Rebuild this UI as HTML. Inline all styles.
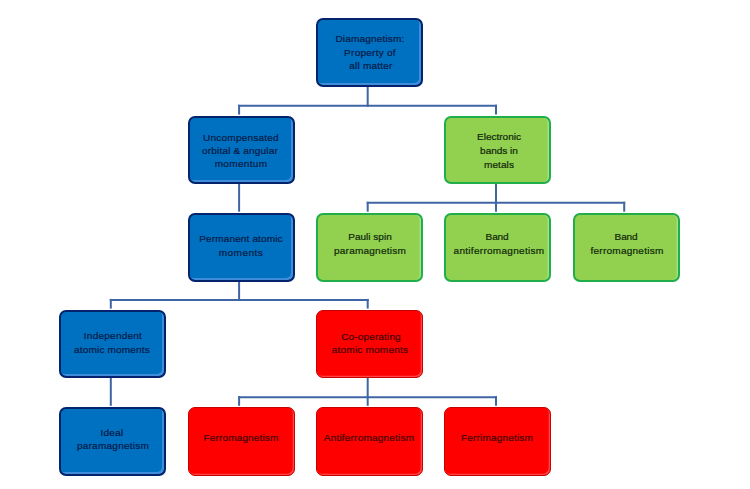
<!DOCTYPE html>
<html><head><meta charset="utf-8"><style>
html,body{margin:0;padding:0;background:#fff;width:750px;height:489px;overflow:hidden;position:relative}
body{font-family:"Liberation Sans",sans-serif}
svg{position:absolute;left:0;top:0}
svg line{stroke:#3f66a4;stroke-width:2;stroke-linecap:square}
.box{position:absolute;width:107.1px;height:68.7px;box-sizing:border-box;border-radius:7px}
.b{background:#0070c0;border:2px solid #03246a;box-shadow:inset -2px -2px 0 #3f8dda}
.g{background:#92d050;border:2px solid #20ad4a;box-shadow:inset -1.4px 0 0 #9fe388}
.r{background:#ff0000;border:1.5px solid #c80000;box-shadow:inset -1.3px -1.3px 0 #ff4444}
.t{position:absolute;width:160px;text-align:center;white-space:nowrap;font-size:9.4px;line-height:12px;-webkit-text-stroke:0.2px currentColor;transform:scaleX(1.07);transform-origin:50% 50%}
.bt{color:#081b46}
.gt{color:#10290b}
.rt{color:#420303}
</style></head><body>
<svg width="750" height="489" viewBox="0 0 750 489"><line x1="367.7" y1="84.7" x2="367.7" y2="105.8"/><line x1="239.1" y1="105.8" x2="496" y2="105.8"/><line x1="239.1" y1="105.8" x2="239.1" y2="113.6"/><line x1="496" y1="105.8" x2="496" y2="113.6"/><line x1="239.1" y1="182.5" x2="239.1" y2="210.70000000000002"/><line x1="496" y1="182.5" x2="496" y2="202.8"/><line x1="367.7" y1="202.8" x2="624.2" y2="202.8"/><line x1="367.7" y1="202.8" x2="367.7" y2="210.70000000000002"/><line x1="496" y1="202.8" x2="496" y2="210.70000000000002"/><line x1="624.2" y1="202.8" x2="624.2" y2="210.70000000000002"/><line x1="239.1" y1="279.6" x2="239.1" y2="299.9"/><line x1="110.8" y1="299.9" x2="367.7" y2="299.9"/><line x1="110.8" y1="299.9" x2="110.8" y2="307.6"/><line x1="367.7" y1="299.9" x2="367.7" y2="307.6"/><line x1="110.8" y1="376.5" x2="110.8" y2="404.8"/><line x1="367.7" y1="376.5" x2="367.7" y2="397.2"/><line x1="239.1" y1="397.2" x2="496" y2="397.2"/><line x1="239.1" y1="397.2" x2="239.1" y2="404.8"/><line x1="367.7" y1="397.2" x2="367.7" y2="404.8"/><line x1="496" y1="397.2" x2="496" y2="404.8"/></svg>
<div class="box b" style="left:316px;top:18.0px"></div><div class="box b" style="left:187.9px;top:115.8px"></div><div class="box g" style="left:444.3px;top:115.8px"></div><div class="box b" style="left:187.9px;top:212.9px"></div><div class="box g" style="left:316px;top:212.9px"></div><div class="box g" style="left:444.3px;top:212.9px"></div><div class="box g" style="left:573px;top:212.9px"></div><div class="box b" style="left:59.2px;top:309.8px"></div><div class="box r" style="left:316px;top:309.8px"></div><div class="box b" style="left:59.2px;top:407.0px"></div><div class="box r" style="left:187.9px;top:407.0px"></div><div class="box r" style="left:316px;top:407.0px"></div><div class="box r" style="left:444.3px;top:407.0px"></div>
<div class="t bt" style="left:290.00px;top:32.64px;letter-spacing:0.158px">Diamagnetism:</div><div class="t bt" style="left:290.40px;top:46.54px;letter-spacing:0.230px">Property of</div><div class="t bt" style="left:290.70px;top:60.44px;letter-spacing:0.194px">all matter</div><div class="t bt" style="left:161.10px;top:132.04px;letter-spacing:0.200px">Uncompensated</div><div class="t bt" style="left:160.20px;top:145.24px;letter-spacing:0.162px">orbital &amp; angular</div><div class="t bt" style="left:160.80px;top:158.44px;letter-spacing:0.293px">momentum</div><div class="t gt" style="left:419.10px;top:130.74px;letter-spacing:-0.017px">Electronic</div><div class="t gt" style="left:418.90px;top:145.34px;letter-spacing:-0.021px">bands in</div><div class="t gt" style="left:418.90px;top:158.74px;letter-spacing:0.070px">metals</div><div class="t bt" style="left:161.30px;top:232.54px;letter-spacing:0.123px">Permanent atomic</div><div class="t bt" style="left:161.30px;top:247.34px;letter-spacing:0.450px">moments</div><div class="t gt" style="left:290.20px;top:230.64px;letter-spacing:-0.006px">Pauli spin</div><div class="t gt" style="left:290.40px;top:245.04px;letter-spacing:0.208px">paramagnetism</div><div class="t gt" style="left:417.10px;top:230.64px;letter-spacing:-0.150px">Band</div><div class="t gt" style="left:418.90px;top:245.04px;letter-spacing:0.262px">antiferromagnetism</div><div class="t gt" style="left:546.10px;top:230.64px;letter-spacing:-0.150px">Band</div><div class="t gt" style="left:546.90px;top:245.04px;letter-spacing:0.227px">ferromagnetism</div><div class="t bt" style="left:33.20px;top:329.54px;letter-spacing:0.210px">Independent</div><div class="t bt" style="left:32.00px;top:344.04px;letter-spacing:0.158px">atomic moments</div><div class="t rt" style="left:290.70px;top:330.74px;letter-spacing:0.132px">Co-operating</div><div class="t rt" style="left:289.80px;top:344.34px;letter-spacing:0.181px">atomic moments</div><div class="t bt" style="left:32.20px;top:426.94px;letter-spacing:0.225px">Ideal</div><div class="t bt" style="left:33.10px;top:440.04px;letter-spacing:0.217px">paramagnetism</div><div class="t rt" style="left:161.00px;top:431.84px;letter-spacing:0.119px">Ferromagnetism</div><div class="t rt" style="left:289.00px;top:431.84px;letter-spacing:0.179px">Antiferromagnetism</div><div class="t rt" style="left:417.10px;top:431.84px;letter-spacing:0.165px">Ferrimagnetism</div>
</body></html>
